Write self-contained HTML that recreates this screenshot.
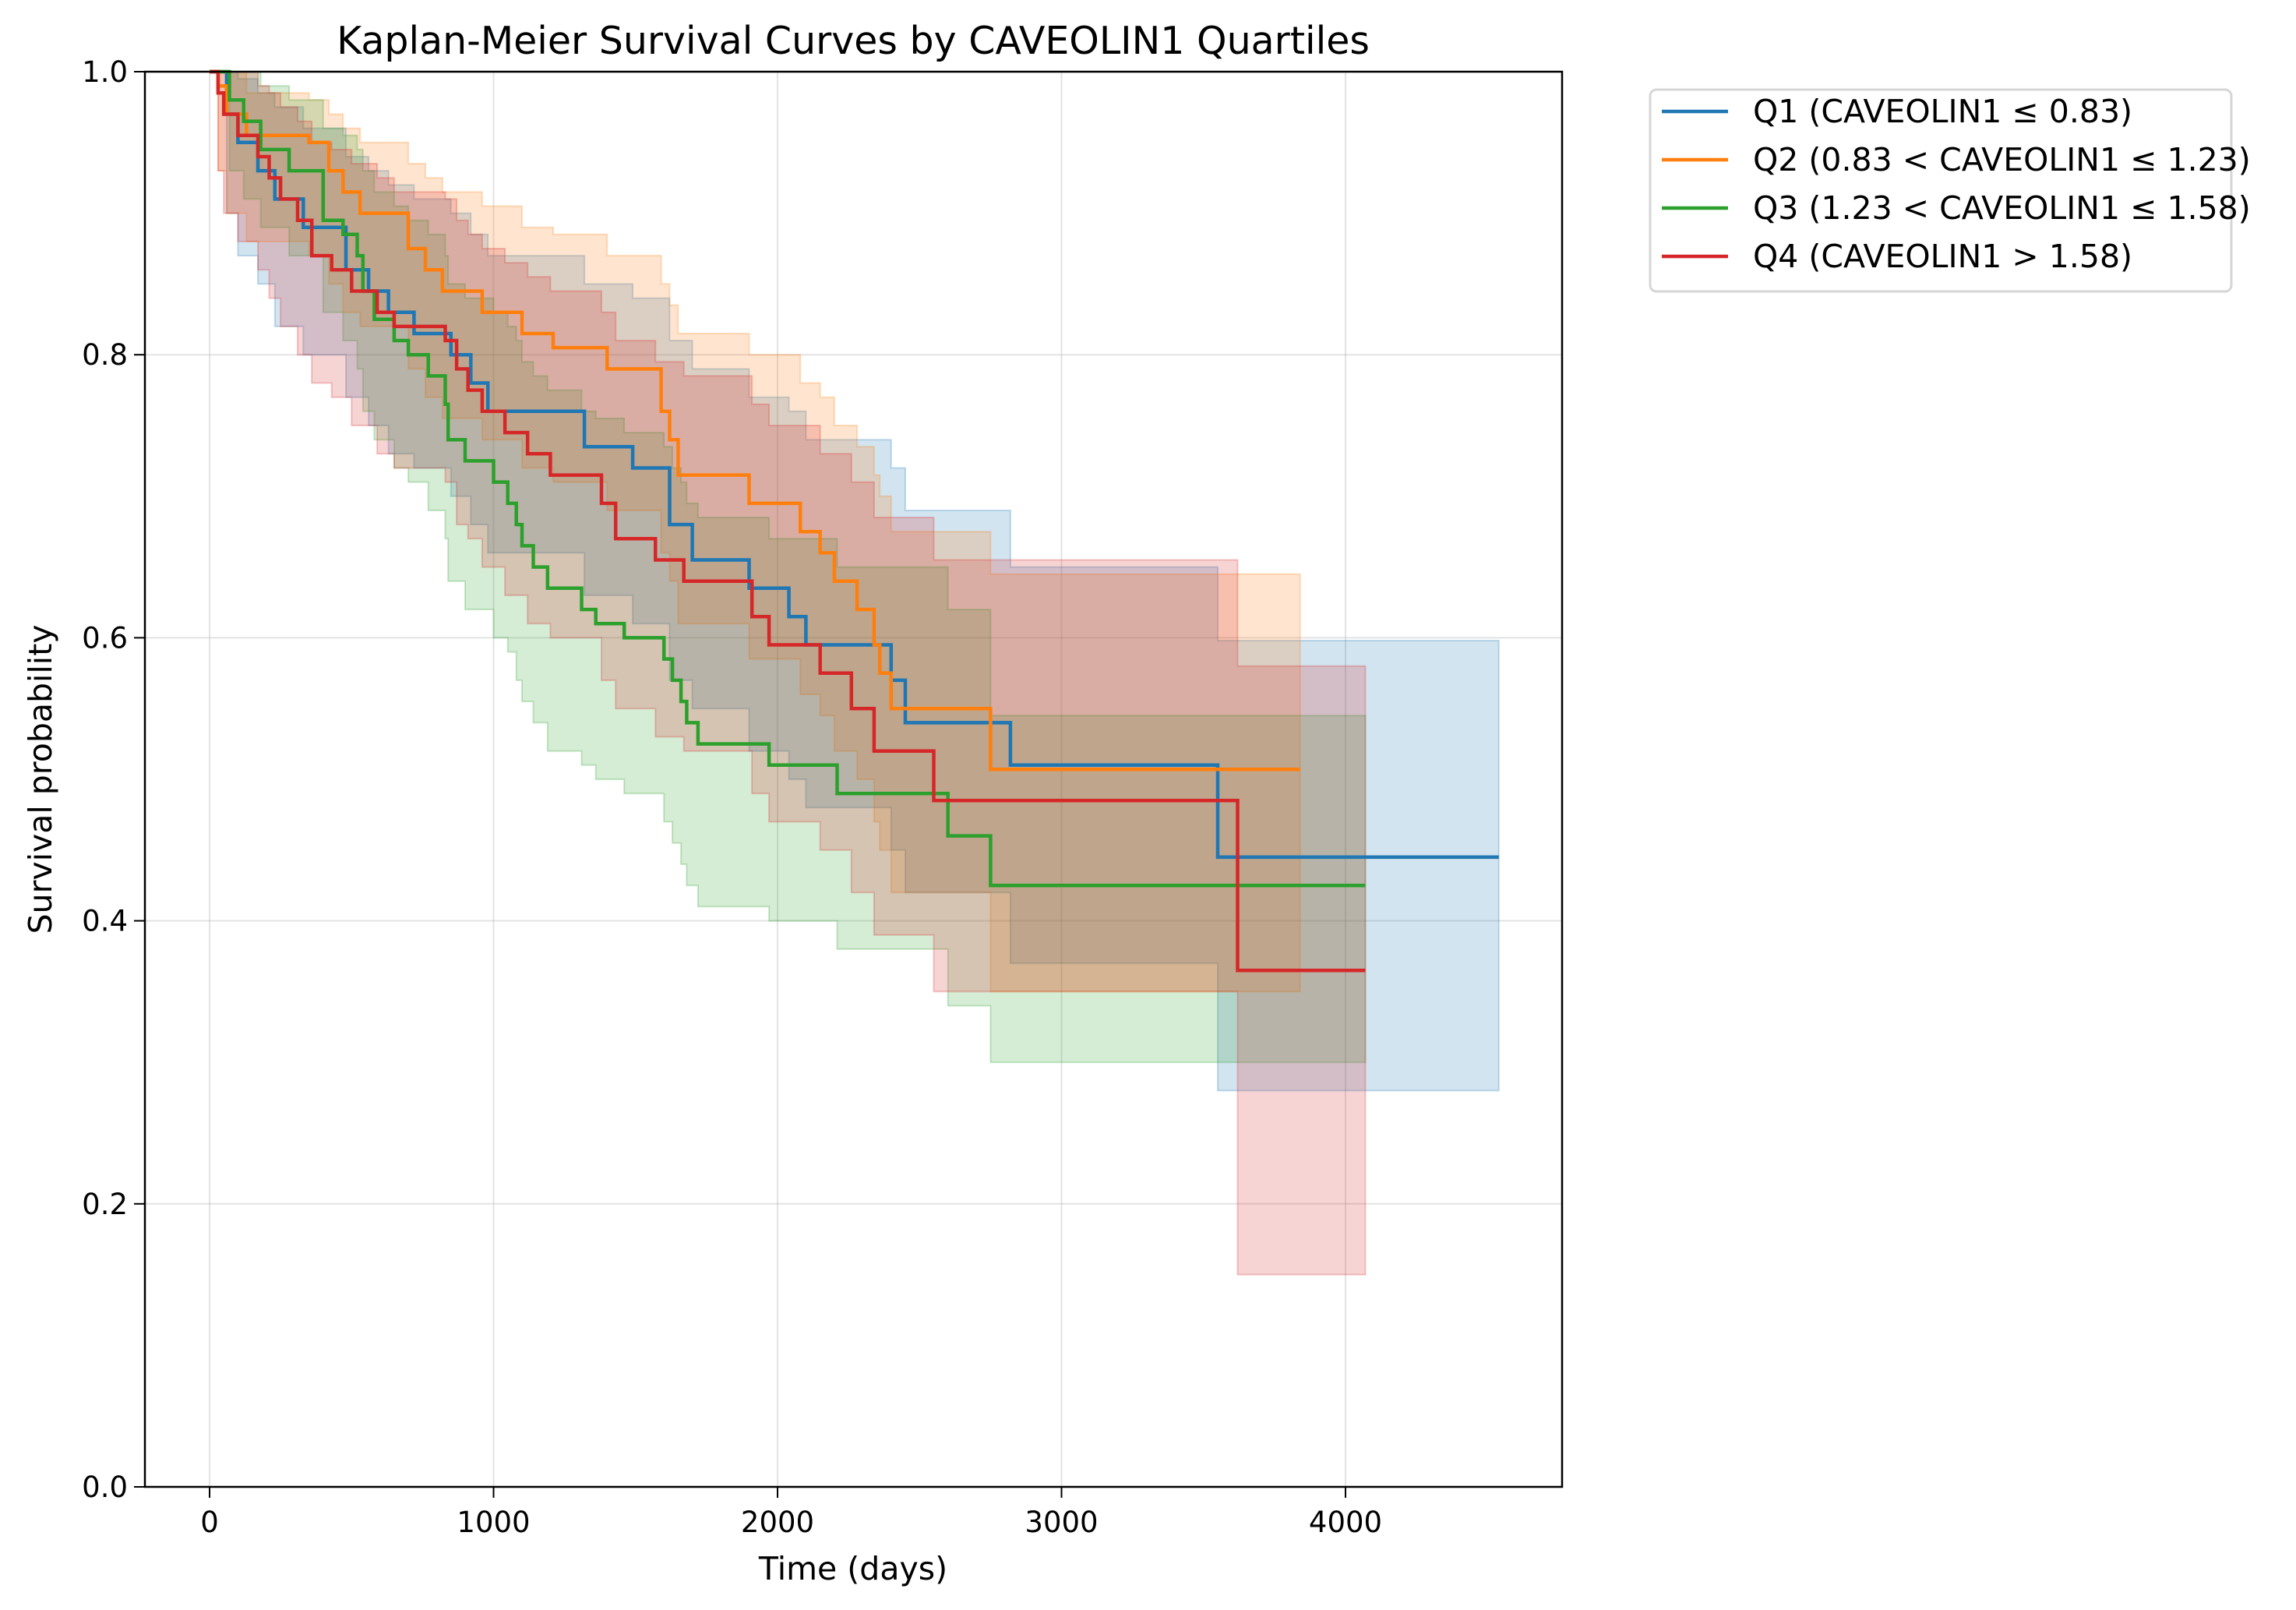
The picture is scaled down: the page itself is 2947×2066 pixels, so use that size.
<!DOCTYPE html>
<html><head><meta charset="utf-8"><style>
html,body{margin:0;padding:0;background:#fff}
svg{display:block;font-family:"DejaVu Sans","Liberation Sans",sans-serif}
</style></head><body>
<svg id="chart" width="2947" height="2066" viewBox="0 0 2947 2066" xmlns="http://www.w3.org/2000/svg">
<rect width="2947" height="2066" fill="#fff"/>
<text x="1095" y="69" font-size="49" text-anchor="middle">Kaplan-Meier Survival Curves by CAVEOLIN1 Quartiles</text>
<g id="grid"></g><g id="bands"></g><g id="lines"></g><g id="axes"></g>
<text x="1095" y="2027" font-size="41" text-anchor="middle">Time (days)</text>
<text transform="translate(66,1000) rotate(-90)" font-size="41" text-anchor="middle">Survival probability</text>
<g>
<rect x="2118" y="115" width="746" height="259" rx="8" fill="#fff" stroke="#d6d6d6" stroke-width="3"/>
<g id="legend-items"></g>
</g>
</svg>
<script>
const xTicks=[0,1000,2000,3000,4000];
const yTicks=[0,0.2,0.4,0.6,0.8,1.0];
const yTickLabels=["0.0","0.2","0.4","0.6","0.8","1.0"];
const seriesNames=["Q1 (CAVEOLIN1 ≤ 0.83)","Q2 (0.83 < CAVEOLIN1 ≤ 1.23)","Q3 (1.23 < CAVEOLIN1 ≤ 1.58)","Q4 (CAVEOLIN1 > 1.58)"];
const colors=["#1f77b4","#ff7f0e","#2ca02c","#d62728"];
const q1Times=[0,60,100,170,230,330,480,560,630,720,850,920,980,1320,1490,1620,1700,1900,2040,2100,2400,2450,2820,3550];
const q1Surv=[1,.97,.95,.93,.91,.89,.86,.845,.83,.815,.80,.78,.76,.735,.72,.68,.655,.635,.615,.595,.57,.54,.51,.445];
const q1Hi=[1,1,.995,.985,.975,.96,.94,.93,.92,.91,.90,.885,.87,.85,.84,.81,.79,.77,.76,.74,.72,.69,.65,.598];
const q1Lo=[1,.90,.87,.85,.82,.80,.77,.75,.73,.72,.70,.68,.66,.63,.61,.57,.55,.52,.50,.48,.45,.42,.37,.28];
const q1End=4540;
const q2Times=[0,30,60,130,350,420,470,530,700,760,820,960,1100,1210,1400,1590,1620,1650,1900,2080,2150,2200,2280,2340,2360,2400,2750];
const q2Surv=[1,.99,.97,.955,.95,.93,.915,.90,.875,.86,.845,.83,.815,.805,.79,.76,.74,.715,.695,.675,.66,.64,.62,.595,.575,.55,.507];
const q2Hi=[1,1,1,.985,.98,.97,.96,.95,.935,.925,.915,.905,.89,.885,.87,.85,.835,.815,.80,.78,.77,.75,.735,.715,.70,.675,.645];
const q2Lo=[1,.93,.90,.88,.87,.85,.83,.82,.79,.77,.755,.74,.72,.71,.69,.66,.64,.61,.585,.56,.545,.52,.50,.47,.45,.42,.35];
const q2End=3840;
const q3Times=[0,70,120,180,280,400,470,520,540,580,650,700,770,830,840,900,1000,1050,1080,1100,1140,1190,1310,1360,1460,1600,1630,1660,1680,1720,1970,2210,2600,2750];
const q3Surv=[1,.98,.965,.945,.93,.895,.885,.87,.845,.825,.81,.80,.785,.765,.74,.725,.71,.695,.68,.665,.65,.635,.62,.61,.60,.585,.57,.555,.54,.525,.51,.49,.46,.425];
const q3Hi=[1,1,1,.99,.98,.96,.955,.945,.93,.915,.905,.895,.885,.87,.85,.84,.83,.82,.81,.795,.785,.775,.76,.755,.745,.735,.72,.71,.695,.685,.67,.65,.62,.545];
const q3Lo=[1,.93,.91,.89,.87,.83,.81,.79,.76,.74,.72,.71,.69,.67,.64,.62,.60,.59,.57,.555,.54,.52,.51,.50,.49,.47,.455,.44,.425,.41,.40,.38,.34,.30];
const q3End=4070;
const q4Times=[0,30,50,100,170,210,250,310,360,430,500,590,650,830,870,910,960,1040,1120,1200,1380,1430,1570,1670,1910,1970,2150,2260,2340,2550,3620];
const q4Surv=[1,.985,.97,.955,.94,.925,.91,.895,.87,.86,.845,.83,.82,.81,.79,.775,.76,.745,.73,.715,.695,.67,.655,.64,.615,.595,.575,.55,.52,.485,.365];
const q4Hi=[1,1,1,1,.99,.985,.975,.965,.95,.945,.935,.925,.915,.91,.895,.885,.875,.865,.855,.845,.83,.81,.795,.785,.765,.75,.73,.71,.685,.655,.58];
const q4Lo=[1,.93,.90,.88,.86,.84,.82,.80,.78,.77,.75,.73,.72,.71,.68,.67,.65,.63,.61,.60,.57,.55,.53,.52,.49,.47,.45,.42,.39,.35,.15];
const q4End=4070;

const NS="http://www.w3.org/2000/svg";
const L=186,R=2005,T=92,B=1908;
const X0=269,XPER=(1727-269)/4000;
function xs(d){return X0+d*XPER;}
function ys(v){return B-(B-T)*v;}
function mk(tag,attrs,parent){const e=document.createElementNS(NS,tag);for(const k in attrs)e.setAttribute(k,attrs[k]);parent.appendChild(e);return e;}
const grid=document.getElementById('grid'),axes=document.getElementById('axes');
xTicks.forEach((t,i)=>{
  const g=mk('line',{x1:xs(t),x2:xs(t),y1:T,y2:B,stroke:'#b0b0b0','stroke-opacity':0.35,'stroke-width':2},grid);
  
  
  const tk=mk('line',{x1:xs(t),x2:xs(t),y1:B,y2:B+14,stroke:'#000','stroke-width':2},axes);
  
  
  const tx=mk('text',{x:xs(t),y:B+58,'font-size':37,'text-anchor':'middle'},axes);
  tx.textContent=String(t);
  
  
});
yTicks.forEach((v,i)=>{
  const g=mk('line',{x1:L,x2:R,y1:ys(v),y2:ys(v),stroke:'#b0b0b0','stroke-opacity':0.35,'stroke-width':2},grid);
  
  
  const tk=mk('line',{x1:L-14,x2:L,y1:ys(v),y2:ys(v),stroke:'#000','stroke-width':2},axes);
  
  
  const tx=mk('text',{x:L-22,y:ys(v)+13,'font-size':37,'text-anchor':'end'},axes);
  tx.textContent=yTickLabels[i];
  
  
});
const frame=mk('rect',{x:L,y:T,width:R-L,height:B-T,fill:'none',stroke:'#000','stroke-width':2.5},axes);



const series=[[q1Times,q1Surv,q1Hi,q1Lo,q1End],[q2Times,q2Surv,q2Hi,q2Lo,q2End],[q3Times,q3Surv,q3Hi,q3Lo,q3End],[q4Times,q4Surv,q4Hi,q4Lo,q4End]];
function stepPts(ts,vs,end){const p=[];for(let i=0;i<ts.length;i++){const nx=i+1<ts.length?ts[i+1]:end;p.push([xs(ts[i]),ys(vs[i])]);p.push([xs(nx),ys(vs[i])]);}return p;}
const bands=document.getElementById('bands'),lines=document.getElementById('lines');
series.forEach((s,k)=>{
  const [ts,sv,hi,lo,end]=s;
  const up=stepPts(ts,hi,end),dn=stepPts(ts,lo,end).reverse();
  const d='M'+up.concat(dn).map(p=>p[0].toFixed(1)+','+p[1].toFixed(1)).join('L')+'Z';
  const b=mk('path',{d:d,fill:colors[k],'fill-opacity':0.2,stroke:colors[k],'stroke-opacity':0.25,'stroke-width':2},bands);
  
  
  const pts=stepPts(ts,sv,end);
  const ln=mk('path',{d:'M'+pts.map(p=>p[0].toFixed(1)+','+p[1].toFixed(1)).join('L'),fill:'none',stroke:colors[k],'stroke-width':4.5},lines);
  
  
});
const li=document.getElementById('legend-items');
seriesNames.forEach((n,k)=>{
  const y=143+k*62;
  const g=mk('g',{},li);
  
  
  mk('line',{x1:2133,x2:2218,y1:y,y2:y,stroke:colors[k],'stroke-width':4.5},g);
  const t=mk('text',{x:2250,y:y+14,'font-size':41},g);
  t.textContent=n;
});
</script>
</body></html>
